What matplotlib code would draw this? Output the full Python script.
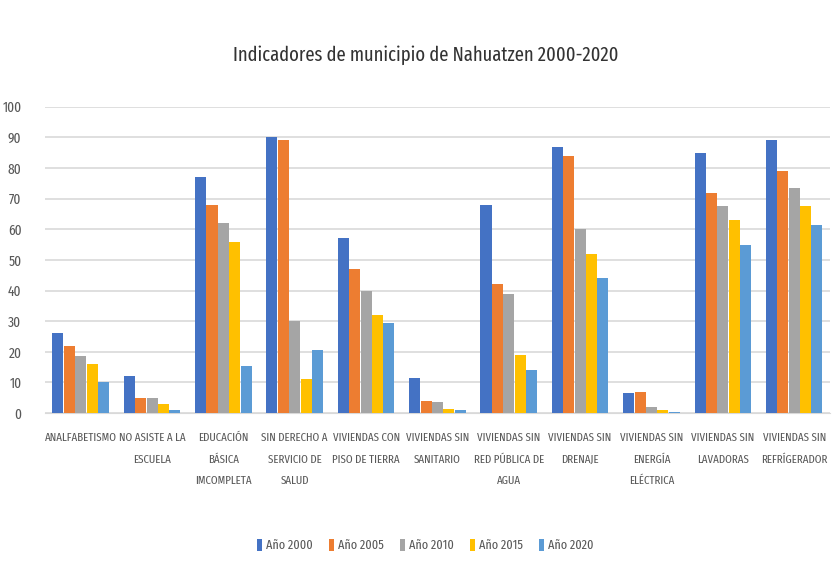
import numpy as np
import matplotlib
matplotlib.use("Agg")
import matplotlib.pyplot as plt

plt.rcParams['font.family'] = ['Fira Sans Extra Condensed', 'Archivo Narrow', 'DejaVu Sans']

categorias = ["ANALFABETISMO", "NO ASISTE A LA\nESCUELA", "EDUCACIÓN\nBÁSICA\nIMCOMPLETA",
              "SIN DERECHO A\nSERVICIO DE\nSALUD", "VIVIENDAS CON\nPISO DE TIERRA",
              "VIVIENDAS SIN\nSANITARIO", "VIVIENDAS SIN\nRED PÚBLICA DE\nAGUA",
              "VIVIENDAS SIN\nDRENAJE", "VIVIENDAS SIN\nENERGÍA\nELÉCTRICA",
              "VIVIENDAS SIN\nLAVADORAS", "VIVIENDAS SIN\nREFRÍGERADOR"]

anio_2000 = [26, 12, 77, 90, 57, 11.5, 68, 87, 6.5, 85, 89]
anio_2005 = [22, 5, 68, 89, 47, 4, 42, 84, 7, 72, 79]
anio_2010 = [18.5, 5, 62, 30, 40, 3.5, 39, 60, 2, 67.5, 73.5]
anio_2015 = [16, 3, 56, 11, 32, 1.5, 19, 52, 1, 63, 67.5]
anio_2020 = [10, 1, 15.5, 20.5, 29.5, 1, 14, 44, 0.5, 55, 61.5]

series = [anio_2000, anio_2005, anio_2010, anio_2015, anio_2020]
nombres = ["Año 2000", "Año 2005", "Año 2010", "Año 2015", "Año 2020"]
colores = ["#4472C4", "#ED7D31", "#A5A5A5", "#FFC000", "#5B9BD5"]

fig = plt.figure(figsize=(8.34, 5.77), dpi=100)
ax = fig.add_axes([0.054, 0.284, 0.941, 0.531])

x = np.arange(len(categorias))
w = 0.155
for k in range(5):
    ax.bar(x + (k - 2) * w * 1.03, series[k], w, color=colores[k], label=nombres[k], zorder=3)

ax.set_ylim(0, 100)
ax.set_xlim(-0.5, len(categorias) - 0.5)
ax.set_yticks(range(0, 101, 10))
ax.grid(axis='y', color='#d9d9d9', linewidth=1.2, zorder=0)
for s in ax.spines.values():
    s.set_visible(False)
ax.spines['bottom'].set_visible(True)
ax.spines['bottom'].set_color('#d9d9d9')
ax.tick_params(axis='both', length=0, colors='#595959', labelsize=10.5)
ax.tick_params(axis='y', pad=17)
ax.set_xticks(x)
ax.set_xticklabels(categorias, linespacing=2.3, va='top', fontsize=8.5)
ax.tick_params(axis='x', pad=14)

fig.text(0.51, 0.905, "Indicadores de municipio de Nahuatzen 2000-2020",
         ha='center', va='center', fontsize=14.5, color='#333333')

fig.legend(loc='center', bbox_to_anchor=(0.51, 0.055), ncol=5, frameon=False,
           fontsize=9.5, handlelength=0.4, handleheight=1.1, handletextpad=0.3,
           columnspacing=1.2, labelcolor='#595959')

fig.savefig("out.png", dpi=100)
